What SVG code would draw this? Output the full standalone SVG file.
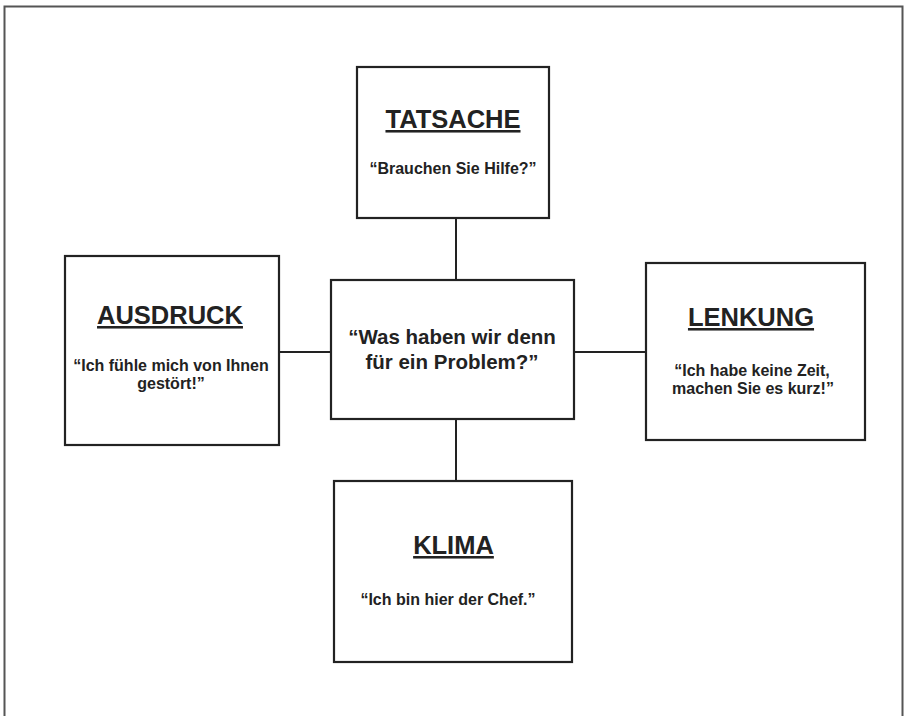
<svg xmlns="http://www.w3.org/2000/svg" width="906" height="716" viewBox="0 0 906 716">
<style>
.box{fill:#fff;stroke:#222;stroke-width:2.2}
.frame{fill:none;stroke:#555;stroke-width:2}
.conn{stroke:#222;stroke-width:2;fill:none}
text{font-family:"Liberation Sans",Arial,sans-serif;font-weight:bold;fill:#222;text-anchor:middle}
.title{font-size:25.5px;text-decoration:underline}
.quote{font-size:16px}
.center{font-size:20.5px}
</style>
<rect class="frame" x="4.5" y="6.5" width="898" height="720"/>
<g id="connectors">
<line class="conn" x1="456" y1="218" x2="456" y2="280"/>
<line class="conn" x1="456" y1="419" x2="456" y2="481"/>
<line class="conn" x1="279" y1="352" x2="331" y2="352"/>
<line class="conn" x1="574" y1="352" x2="646" y2="352"/>
</g>
<g id="tatsache">
<rect class="box" x="357" y="67" width="192" height="151"/>
<text class="title" x="453" y="128">TATSACHE</text>
<text class="quote" x="453" y="174">“Brauchen Sie Hilfe?”</text>
</g>
<g id="ausdruck">
<rect class="box" x="65" y="256" width="214" height="189"/>
<text class="title" x="170" y="324">AUSDRUCK</text>
<text class="quote" x="171" y="371">“Ich fühle mich von Ihnen</text>
<text class="quote" x="171" y="389">gestört!”</text>
</g>
<g id="center">
<rect class="box" x="331" y="280" width="243" height="139"/>
<text class="center" x="452" y="344">“Was haben wir denn</text>
<text class="center" x="452" y="369">für ein Problem?”</text>
</g>
<g id="lenkung">
<rect class="box" x="646" y="263" width="219" height="177"/>
<text class="title" x="751" y="326">LENKUNG</text>
<text class="quote" x="752" y="376">“Ich habe keine Zeit,</text>
<text class="quote" x="753" y="394">machen Sie es kurz!”</text>
</g>
<g id="klima">
<rect class="box" x="334" y="481" width="238" height="181"/>
<text class="title" x="453.5" y="554">KLIMA</text>
<text class="quote" x="448" y="605">“Ich bin hier der Chef.”</text>
</g>
</svg>
